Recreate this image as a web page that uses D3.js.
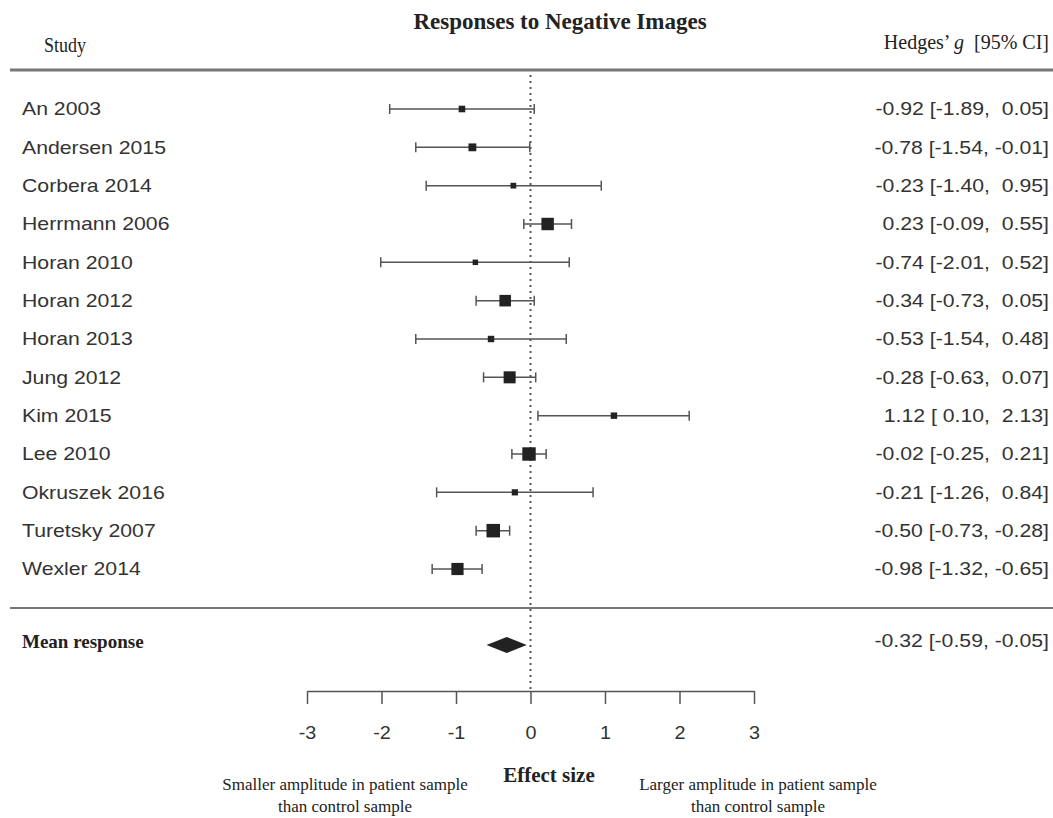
<!DOCTYPE html>
<html>
<head>
<meta charset="utf-8">
<script src="https://cdn.jsdelivr.net/npm/d3@7"></script>
<style>
  body { margin: 0; background: #fff; }
  svg text { white-space: pre; }
</style>
</head>
<body>
<svg width="1053" height="818"></svg>
<script>
// study rows, top to bottom
var studies = ["An 2003", "Andersen 2015", "Corbera 2014", "Herrmann 2006", "Horan 2010",
               "Horan 2012", "Horan 2013", "Jung 2012", "Kim 2015", "Lee 2010",
               "Okruszek 2016", "Turetsky 2007", "Wexler 2014"];
var g     = [-0.92, -0.78, -0.23, 0.23, -0.74, -0.34, -0.53, -0.28, 1.12, -0.02, -0.21, -0.50, -0.98];
var lower = [-1.89, -1.54, -1.40, -0.09, -2.01, -0.73, -1.54, -0.63, 0.10, -0.25, -1.26, -0.73, -1.32];
var upper = [0.05, -0.01, 0.95, 0.55, 0.52, 0.05, 0.48, 0.07, 2.13, 0.21, 0.84, -0.28, -0.65];
// approximate study weights (%)
var weight = [4.3, 5.9, 3.2, 11.8, 2.9, 10.7, 4.1, 11.3, 4.1, 13.1, 3.8, 13.2, 11.5];

var meanEst = [-0.32, -0.59, -0.05]; // estimate, lower, upper
var xTicks = [-3, -2, -1, 0, 1, 2, 3];

var svg = d3.select("svg");
var ink = "#222", lineCol = "#555", textCol = "#333";
var sans = "'Liberation Sans', Arial, sans-serif",
    serif = "'Liberation Serif', 'Times New Roman', serif";
var stretch = 1.18; // the sans text in the figure is drawn wide

var x = d3.scaleLinear().domain([-3, 3]).range([307, 754]);
var y = d3.scalePoint().domain(studies).range([109, 569]);
var size = d3.scaleLinear().domain([2.9, 13.2]).range([5.5, 13.5]);
var yMean = 645, yAxis = 691;

var f2 = d3.format(".2f");
function num(v) { return f2(v).replace("\u2212", "-"); }
function pad(v) { return v < 0 ? num(v) : " " + num(v); }
function label(e, l, u) { return num(e) + " [" + pad(l) + ", " + pad(u) + "]"; }
function wide(px, py) { return "translate(" + px + "," + py + ") scale(" + stretch + ",1)"; }

// headers
svg.append("text").attr("x", 560).attr("y", 29).attr("text-anchor", "middle")
    .style("font", "bold 23px " + serif).attr("fill", ink).text("Responses to Negative Images");
svg.append("text").attr("transform", "translate(44,52) scale(0.9,1)")
    .style("font", "20px " + serif).attr("fill", ink).text("Study");
var h = svg.append("text").attr("x", 1049).attr("y", 49).attr("text-anchor", "end")
    .style("font", "20px " + serif).attr("fill", ink);
h.append("tspan").text("Hedges’ ");
h.append("tspan").style("font-style", "italic").text("g");
h.append("tspan").text("  [95% CI]");

// separators
svg.append("line").attr("x1", 10).attr("x2", 1053).attr("y1", 70).attr("y2", 70)
    .attr("stroke", "#777").attr("stroke-width", 3);
svg.append("line").attr("x1", 10).attr("x2", 1053).attr("y1", 608).attr("y2", 608)
    .attr("stroke", "#777").attr("stroke-width", 2);

// reference line at zero
svg.append("line").attr("x1", x(0)).attr("x2", x(0)).attr("y1", 75).attr("y2", yAxis)
    .attr("stroke", lineCol).attr("stroke-width", 2).attr("stroke-dasharray", "2,4");

var rows = svg.selectAll("g.row").data(studies).enter().append("g").attr("class", "row")
    .attr("transform", function(d) { return "translate(0," + y(d) + ")"; });

rows.append("text").attr("transform", wide(22, 0)).attr("dy", "0.35em")
    .style("font", "18px " + sans).attr("fill", textCol).text(function(d) { return d; });

rows.append("line").attr("x1", function(d, i) { return x(lower[i]); })
    .attr("x2", function(d, i) { return x(upper[i]); })
    .attr("stroke", lineCol).attr("stroke-width", 1.5);

[lower, upper].forEach(function(arr) {
  rows.append("line").attr("x1", function(d, i) { return x(arr[i]); })
      .attr("x2", function(d, i) { return x(arr[i]); })
      .attr("y1", -5).attr("y2", 5).attr("stroke", lineCol).attr("stroke-width", 1.5);
});

rows.append("rect")
    .attr("x", function(d, i) { return x(g[i]) - size(weight[i]) / 2; })
    .attr("y", function(d, i) { return -size(weight[i]) / 2; })
    .attr("width", function(d, i) { return size(weight[i]); })
    .attr("height", function(d, i) { return size(weight[i]); })
    .attr("fill", ink);

rows.append("text").attr("transform", wide(1049, 0)).attr("dy", "0.35em").attr("text-anchor", "end")
    .style("font", "18px " + sans).attr("fill", textCol)
    .text(function(d, i) { return label(g[i], lower[i], upper[i]); });

// summary
svg.append("text").attr("x", 22).attr("y", 641).attr("dy", "0.35em")
    .style("font", "bold 19px " + serif).attr("fill", ink).text("Mean response");
svg.append("path")
    .attr("d", d3.line()([[x(meanEst[1]), yMean], [x(meanEst[0]), yMean - 8],
                          [x(meanEst[2]), yMean], [x(meanEst[0]), yMean + 8]]) + "Z")
    .attr("fill", ink);
svg.append("text").attr("transform", wide(1049, 641)).attr("dy", "0.35em").attr("text-anchor", "end")
    .style("font", "18px " + sans).attr("fill", textCol)
    .text(label(meanEst[0], meanEst[1], meanEst[2]));

// axis
var ax = svg.append("g").attr("transform", "translate(0," + yAxis + ")")
    .call(d3.axisBottom(x).tickValues(xTicks).tickSize(13).tickPadding(22)
          .tickFormat(function(d) { return num(d).replace(".00", ""); }).tickSizeOuter(0));
ax.select(".domain").attr("stroke", lineCol).attr("stroke-width", 1.5);
ax.selectAll(".tick line").attr("stroke", lineCol).attr("stroke-width", 1.5);
ax.selectAll(".tick text").style("font", "18px " + sans).attr("fill", textCol)
    .attr("transform", "scale(1.1,1)")
    .attr("x", function(d) { return 0; });

// axis captions
svg.append("text").attr("x", 549).attr("y", 782).attr("text-anchor", "middle")
    .style("font", "bold 21px " + serif).attr("fill", ink).text("Effect size");
var caps = [[345, "Smaller amplitude in patient sample"], [758, "Larger amplitude in patient sample"]];
caps.forEach(function(c) {
  var t = svg.append("text").attr("x", c[0]).attr("y", 790).attr("text-anchor", "middle")
      .style("font", "17px " + serif).attr("fill", ink);
  t.append("tspan").attr("x", c[0]).text(c[1]);
  t.append("tspan").attr("x", c[0]).attr("dy", 22).text("than control sample");
});
</script>
</body>
</html>
